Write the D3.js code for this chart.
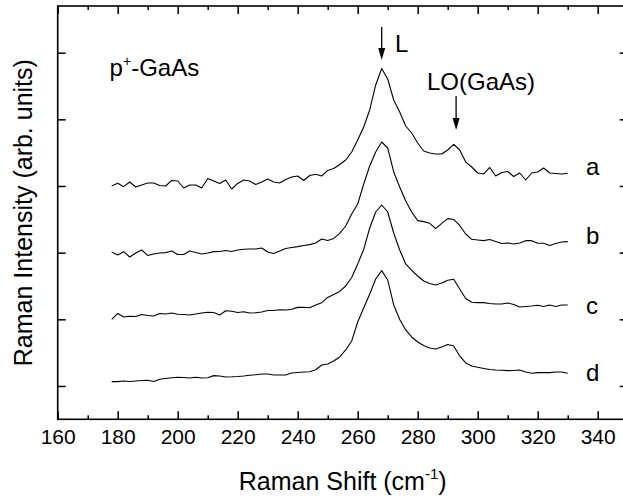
<!DOCTYPE html>
<html>
<head>
<meta charset="utf-8">
<script src="https://cdn.jsdelivr.net/npm/d3@7"></script>
<style>
  html, body { margin: 0; padding: 0; background: #fff; }
  svg { display: block; font-family: "Liberation Sans", Arial, sans-serif; }
</style>
</head>
<body>
<svg id="chart" width="623" height="500"></svg>
<script>
// ---- data ----
const ramanShift = [178,180,182,184,186,188,190,192,194,196,198,200,202,204,206,208,210,212,214,216,218,220,222,224,226,228,230,232,234,236,238,240,242,244,246,248,250,252,254,256,258,260,262,264,266,268,270,272,274,276,278,280,282,284,286,288,290,292,294,296,298,300,302,304,306,308,310,312,314,316,318,320,322,324,326,328,330];

const seriesA = [350,354,349,356,348.5,351.5,354.5,354.5,350.8,350,358.3,357.5,347,351.5,351.5,347,361.3,357.5,353.8,359,345.5,353.8,359,357.5,352.3,356,360.5,356,354.5,359.8,363.5,365,358.3,365.8,367.5,365,373.3,376.3,382.3,389,401,419,438.5,464,501.5,526.3,510.5,479,461,440,429.5,414.5,402.5,399.5,398,398,404,412.3,404,386,378.5,369.5,368,377.8,365,370.3,371.8,364.3,369.5,359,369.5,371,377,369.5,368.8,368,369];

const seriesB = [251,246.5,251.5,243.5,249.5,254,245.8,248,249.5,250,252.5,247.3,247.3,252.5,250.3,248,249.5,251.5,251.8,253.3,251.8,254,255,255.5,255.5,257,251,248.8,252.5,256.3,257.8,259,260.8,262,264.5,270.5,268.3,271.3,278.8,290,308,323,353,380,401,416,407,371,348.5,327.5,311,298,296.5,294,286,294,301,299.8,290.8,278,270,269,268,269.8,266.8,263.8,264.5,263,264.5,268,268,264,264,260.8,263.8,266,266.5];

const seriesC = [149.8,158.8,153.5,154.6,154.3,157.3,155.8,155,158.8,158,159.5,157.7,157.3,156.5,158,159.5,160.7,160.3,156.5,162.8,162.2,160.3,161.3,159.5,159.8,161,163.3,163.3,164.3,164,165,167.9,168.2,167.3,171.5,175,182.8,187.3,191.8,200,212.8,233,254.8,287,311,321.5,311,279.5,254,233,223.3,215,207.5,203.8,201.5,204.5,208.6,210,195.5,181.3,175.6,175,175,173.8,172.9,173,174.5,172.3,168.5,169.3,170,171.2,169.3,171.5,169.3,171.5,171.5];

const seriesD = [56.5,56.5,57.5,56.8,57.5,58.3,58.6,56.8,60.1,61.3,62.3,63.1,62.8,62,63.1,62,62.3,65.5,65,63.5,63.8,64.3,65,66.1,66.8,68,68,66.5,66.5,66.5,69.5,70.3,71,71.3,74.3,81.5,83,87.5,93.5,104,117.5,146,167,188,210.5,223,209,171.5,149.8,134,123.5,116,110.8,107,105.5,108.5,112.3,110,95,84.5,80,78,76.3,74.8,74,73.6,73,73.3,74,71,69,70,70,70,71,71,69];

const seriesNames = ["a", "b", "c", "d"];
const xMajorTicks = [160,180,200,220,240,260,280,300,320,340];
const xMinorTicks = [170,190,210,230,250,270,290,310,330,350];
const yTicks = [50,150,250,350,450,550];

// ---- layout ----
const svg = d3.select("#chart");
const mLeft = 57.7, mRight = 627.7, mTop = 6, mBottom = 419.3;
const x = d3.scaleLinear().domain([160, 350]).range([mLeft, mRight]);
const y = d3.scaleLinear().domain([0, 620]).range([mBottom, mTop]);

const allSeries = [seriesA, seriesB, seriesC, seriesD];

// curves
const line = d3.line().x((d, i) => x(ramanShift[i])).y(d => y(d));
svg.append("g").selectAll("path").data(allSeries).join("path")
  .attr("d", d => line(d))
  .attr("fill", "none")
  .attr("stroke", "#000")
  .attr("stroke-width", 1.1)
  .attr("stroke-linejoin", "round");

// axes
function styleAxis(g) {
  g.select(".domain").remove();
  g.selectAll(".tick line").attr("stroke", "#000").attr("stroke-width", 1.5);
  g.selectAll(".tick text").attr("fill", "#000");
}
svg.append("g").attr("transform", `translate(0,${mBottom})`)
  .call(d3.axisBottom(x).tickValues(xMajorTicks).tickSize(-8).tickPadding(10).tickFormat(d3.format("d")))
  .call(styleAxis)
  .call(g => g.selectAll(".tick text").attr("font-size", 21).attr("font-family", "Liberation Sans, Arial, sans-serif"));
svg.append("g").attr("transform", `translate(0,${mBottom})`)
  .call(d3.axisBottom(x).tickValues(xMinorTicks).tickSize(-4).tickFormat(""))
  .call(styleAxis);
svg.append("g").attr("transform", `translate(0,${mTop})`)
  .call(d3.axisTop(x).tickValues(xMajorTicks).tickSize(-8).tickFormat(""))
  .call(styleAxis);
svg.append("g").attr("transform", `translate(0,${mTop})`)
  .call(d3.axisTop(x).tickValues(xMinorTicks).tickSize(-4).tickFormat(""))
  .call(styleAxis);
svg.append("g").attr("transform", `translate(${mLeft},0)`)
  .call(d3.axisLeft(y).tickValues(yTicks).tickSize(-8).tickFormat(""))
  .call(styleAxis);
svg.append("g").attr("transform", `translate(${mRight},0)`)
  .call(d3.axisRight(y).tickValues(yTicks).tickSize(-8).tickFormat(""))
  .call(styleAxis);

// frame
svg.append("rect")
  .attr("x", mLeft).attr("y", mTop)
  .attr("width", mRight - mLeft).attr("height", mBottom - mTop)
  .attr("fill", "none").attr("stroke", "#000").attr("stroke-width", 1.6);

// axis titles
const xt = svg.append("text")
  .attr("x", (mLeft + mRight) / 2).attr("y", 490)
  .attr("text-anchor", "middle").attr("font-size", 25);
xt.append("tspan").text("Raman Shift (cm");
xt.append("tspan").attr("font-size", 15).attr("dy", -11).text("-1");
xt.append("tspan").attr("dy", 11).text(")");

svg.append("text")
  .attr("transform", `translate(32,${(mTop + mBottom) / 2}) rotate(-90)`)
  .attr("text-anchor", "middle").attr("font-size", 25)
  .text("Raman Intensity (arb. units)");

// annotations
const pt = svg.append("text").attr("x", x(177.3)).attr("y", y(515)).attr("font-size", 24);
pt.append("tspan").text("p");
pt.append("tspan").attr("font-size", 14).attr("dy", -10).text("+");
pt.append("tspan").attr("dy", 10).text("-GaAs");

svg.append("text").attr("x", x(272.4)).attr("y", y(551)).attr("font-size", 24).text("L");
svg.append("text").attr("x", x(283.1)).attr("y", y(494)).attr("font-size", 24).text("LO(GaAs)");

function arrow(xv, y1, y2) {
  const px = x(xv), pTop = y(y1), pTip = y(y2);
  svg.append("line").attr("x1", px).attr("x2", px).attr("y1", pTop).attr("y2", pTip - 8)
    .attr("stroke", "#000").attr("stroke-width", 1.3);
  svg.append("path")
    .attr("d", `M${px - 3.5},${pTip - 12} L${px + 3.5},${pTip - 12} L${px},${pTip} Z`)
    .attr("fill", "#000");
}
arrow(268, 588.5, 539);
arrow(292.8, 485, 434);

const labelPos = [366.5, 263, 158, 57.5];
svg.append("g").selectAll("text").data(seriesNames).join("text")
  .attr("x", x(336.1)).attr("y", (d, i) => y(labelPos[i]))
  .attr("font-size", 24).text(d => d);
</script>
</body>
</html>
